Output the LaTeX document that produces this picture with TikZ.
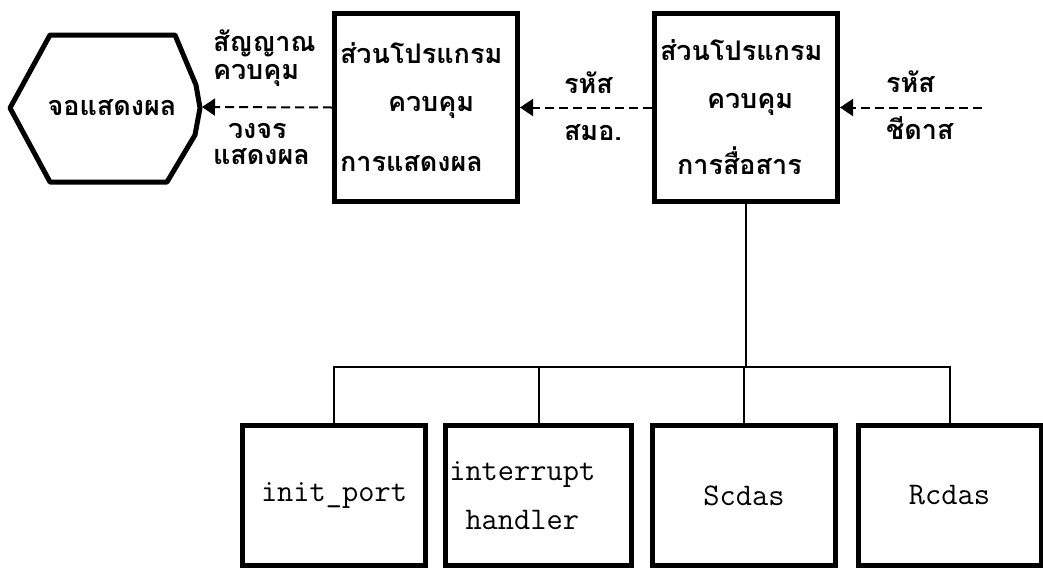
\documentclass[tikz,border=0pt]{standalone}
\usepackage{fontspec}
\newfontfamily\thaifont[Script=Thai]{Loma}
\usetikzlibrary{arrows.meta}
\tikzset{
  every picture/.style={line width=2pt},
  thai/.style={font=\thaifont\bfseries\fontsize{27}{48}\selectfont},
  prog/.style={draw, line width=5pt, thai, text width=172pt, inner xsep=5.5pt, minimum height=188pt, align=left},
  module/.style={draw, line width=5pt, minimum width=183pt, minimum height=140pt, align=center, font=\ttfamily\fontsize{31.5}{49}\selectfont},
  sig/.style={-{Triangle[length=13pt,width=17pt]}, dash pattern=on 9pt off 5pt, line width=2pt},
  tree/.style={line width=2pt},
  lbl/.style={thai, anchor=west, inner sep=0pt},
}

\begin{document}
\begin{tikzpicture}[x=1pt, y=-1pt]
  \useasboundingbox (0,0) rectangle (1043,571);
  % display screen
  \draw[line width=5pt, line join=round] (50,35) -- (175,35) -- (196,85) -- (200,108) -- (195,135) -- (167,182) -- (50,182) -- (10,108) -- cycle;
  \node[thai] (scr) at (112,108) {จอแสดงผล};
  \coordinate (scr-e) at (202,107);
  % program parts
  \node[prog] (disp) at (426,107.5) {ส่วนโปรแกรม\\\hspace*{48pt}ควบคุม\\[12pt]การแสดงผล};
  \node[prog] (comm) at (746,107.5) {ส่วนโปรแกรม\\\hspace*{47pt}ควบคุม\\[18pt]\hspace*{17pt}การสื่อสาร};
  \coordinate (cdas) at (982,107.5);
  \draw[sig] (cdas) -- (comm.east);
  \draw[sig] (comm.west) -- (disp.east);
  \draw[sig] (disp.west) -- (scr-e);
  \node[lbl] (cdas-a) at (885,82) {รหัส};
  \node[lbl] (cdas-b) at (885,128) {ชีดาส};
  \node[lbl] (smo-a) at (563,83) {รหัส};
  \node[lbl] (smo-b) at (563,133) {สมอ.};
  \node[lbl] (ctl-a) at (212,43) {สัญญาณ};
  \node[lbl] (ctl-b) at (212,75) {ควบคุม};
  \node[lbl] (ckt-a) at (227,131) {วงจร};
  \node[lbl] (ckt-b) at (212,157) {แสดงผล};
  % modules
  \node[module] (initp) at (334,495.5) {init\_port};
  \node[module] (intr) at (538.5,495.5) {interrupt\hphantom{xx}\\handler\hphantom{xx}};
  \node[module] (scd) at (744,495.5) {Scdas};
  \node[module] (rcd) at (949.5,495.5) {Rcdas};
  \coordinate (hub) at (746,367);
  \draw[tree] (comm.south) -- (hub);
  \draw[tree] (initp.north) |- (hub) -| (rcd.north);
  \draw[tree] (intr.north) -- (intr.north |- hub);
  \draw[tree] (scd.north) -- (scd.north |- hub);
\end{tikzpicture}
\end{document}
